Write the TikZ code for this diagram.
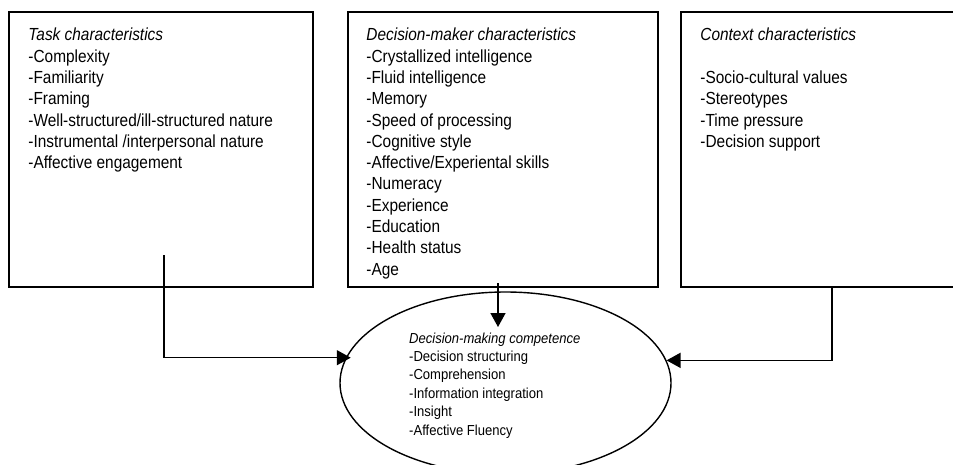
\documentclass[tikz,border=0pt]{standalone}
\usepackage{fontspec}
\setmainfont{Liberation Sans}[FakeStretch=0.88]
\newfontfamily\dmcfont{Liberation Sans}[FakeStretch=0.9]
\usetikzlibrary{arrows.meta,positioning,shapes.geometric}

\begin{document}
\begin{tikzpicture}[line join=miter,x=1pt,y=-1pt,>={Triangle[length=14pt,width=15pt]},
            box/.style={draw,rectangle,line width=1.5pt,inner sep=0pt,minimum height=275pt},
            boxtext/.style={inner sep=0pt,font=\fontsize{17.5}{21.3}\selectfont},
            conn/.style={->,line width=1.5pt}]
            \useasboundingbox (0,0) rectangle (953,465);
            \clip (0,0) rectangle (953,465);
            \node[box,minimum width=304pt] (task) at (161,149.5) {};
            \node[box,minimum width=310pt] (maker) at (503,149.5) {};
            \node[box,minimum width=280pt] (context) at (821,149.5) {};
            \node[boxtext,below right=14.5pt and 20pt of task.north west] (tasktext) {\parbox{290pt}{\strut\textit{Task characteristics}\\-Complexity\\-Familiarity\\-Framing\\-Well-structured/ill-structured nature\\-Instrumental /interpersonal nature\\-Affective engagement}};
            \node[boxtext,below right=14.5pt and 19pt of maker.north west] (makertext) {\parbox{290pt}{\strut\textit{Decision-maker characteristics}\\-Crystallized intelligence\\-Fluid intelligence\\-Memory\\-Speed of processing\\-Cognitive style\\-Affective/Experiental skills\\-Numeracy\\-Experience\\-Education\\-Health status\\-Age}};
            \node[boxtext,below right=14.5pt and 20pt of context.north west] (contexttext) {\parbox{250pt}{\strut\textit{Context characteristics}\\[21.3pt]-Socio-cultural values\\-Stereotypes\\-Time pressure\\-Decision support}};
            \node[draw,ellipse,line width=1.4pt,inner sep=0pt,minimum width=331pt,minimum height=182pt] (dmc) at (505.5,383) {};
            \node[anchor=north west,inner sep=0pt,font=\dmcfont\fontsize{14.5}{18.4}\selectfont] (dmctext) at (409,330) {\parbox{200pt}{\strut\textit{Decision-making competence}\\-Decision structuring\\-Comprehension\\-Information integration\\-Insight\\-Affective Fluency}};
            \coordinate (taskout) at (164,255);
            \coordinate (makerout) at (498,283);
            \coordinate (dmctop) at (498,327);
            \coordinate (contextout) at (832,287);
            \draw [conn,shorten >=-5pt] (taskout) |- (dmc.171.07);
            \draw [conn] (makerout) -- (dmctop);
            \draw [conn] (contextout) |- (dmc.8.93);
\end{tikzpicture}
\end{document}
